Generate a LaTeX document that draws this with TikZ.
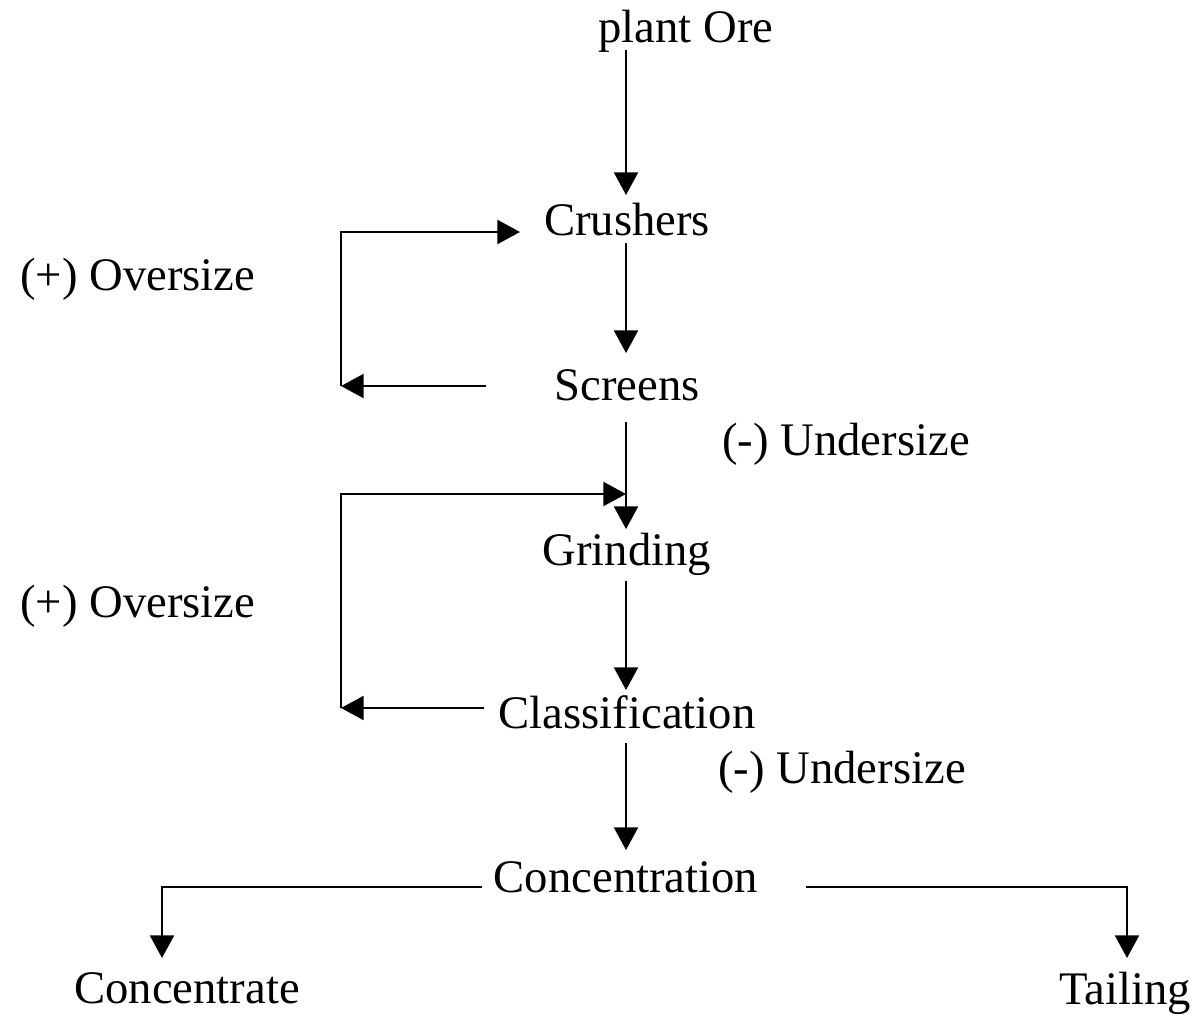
\documentclass[tikz,border=0pt]{standalone}
\usepackage{fontspec}
\setmainfont{Liberation Serif}
\usetikzlibrary{arrows.meta}
\begin{document}
\begin{tikzpicture}[x=0.75pt,y=-0.75pt,
  lbl/.style={inner sep=0pt, anchor=base, font=\fontsize{35}{40}\selectfont},
  lbll/.style={inner sep=0pt, anchor=base west, font=\fontsize{35}{40}\selectfont},
  flow/.style={line width=1.7pt, -{Triangle[length=17pt,width=18pt]}}]
\useasboundingbox (0,0) rectangle (1202,1014);
% nodes
\node[lbl] (ore) at (686,42) {plant Ore};
\node[lbl] (crush) at (627,235) {Crushers};
\node[lbl] (screen) at (627,400) {Screens};
\node[lbl] (grind) at (627,565) {Grinding};
\node[lbl] (class) at (627,728) {Classification};
\node[lbl] (conc) at (626,892) {Concentration};
\node[lbl] (cate) at (187,1003) {Concentrate};
\node[lbl] (tail) at (1125,1004) {Tailing};
\node[lbll] (over1) at (20,290) {(+) Oversize};
\node[lbll] (over2) at (20,617) {(+) Oversize};
\node[lbll] (under1) at (722,455) {(-) Undersize};
\node[lbll] (under2) at (718,783) {(-) Undersize};
% coordinates
\coordinate (a1s) at (626,50);  \coordinate (a1e) at (626,195);
\coordinate (a2s) at (626,243); \coordinate (a2e) at (626,353);
\coordinate (a3s) at (626,422); \coordinate (a3e) at (626,529);
\coordinate (a4s) at (626,581); \coordinate (a4e) at (626,690);
\coordinate (a5s) at (626,743); \coordinate (a5e) at (626,850);
\coordinate (l1a) at (486,386); \coordinate (l1b) at (341,386);
\coordinate (l1c) at (341,232); \coordinate (l1d) at (520,232);
\coordinate (l2a) at (484,708); \coordinate (l2b) at (341,708);
\coordinate (l2c) at (341,494); \coordinate (l2d) at (626,494);
\coordinate (bl) at (482,887); \coordinate (br) at (806,887);
\coordinate (blt) at (162,958); \coordinate (brt) at (1127,958);
% main flow
\draw[flow] (a1s) -- (a1e);
\draw[flow] (a2s) -- (a2e);
\draw[flow] (a3s) -- (a3e);
\draw[flow] (a4s) -- (a4e);
\draw[flow] (a5s) -- (a5e);
% recycle loops
\draw[flow] (l1a) -- (l1b);
\draw[flow] (l1b) -- (l1c) -- (l1d);
\draw[flow] (l2a) -- (l2b);
\draw[flow] (l2b) -- (l2c) -- (l2d);
% branches
\draw[flow] (bl) -- (bl -| blt) -- (blt);
\draw[flow] (br) -- (br -| brt) -- (brt);
\end{tikzpicture}
\end{document}
